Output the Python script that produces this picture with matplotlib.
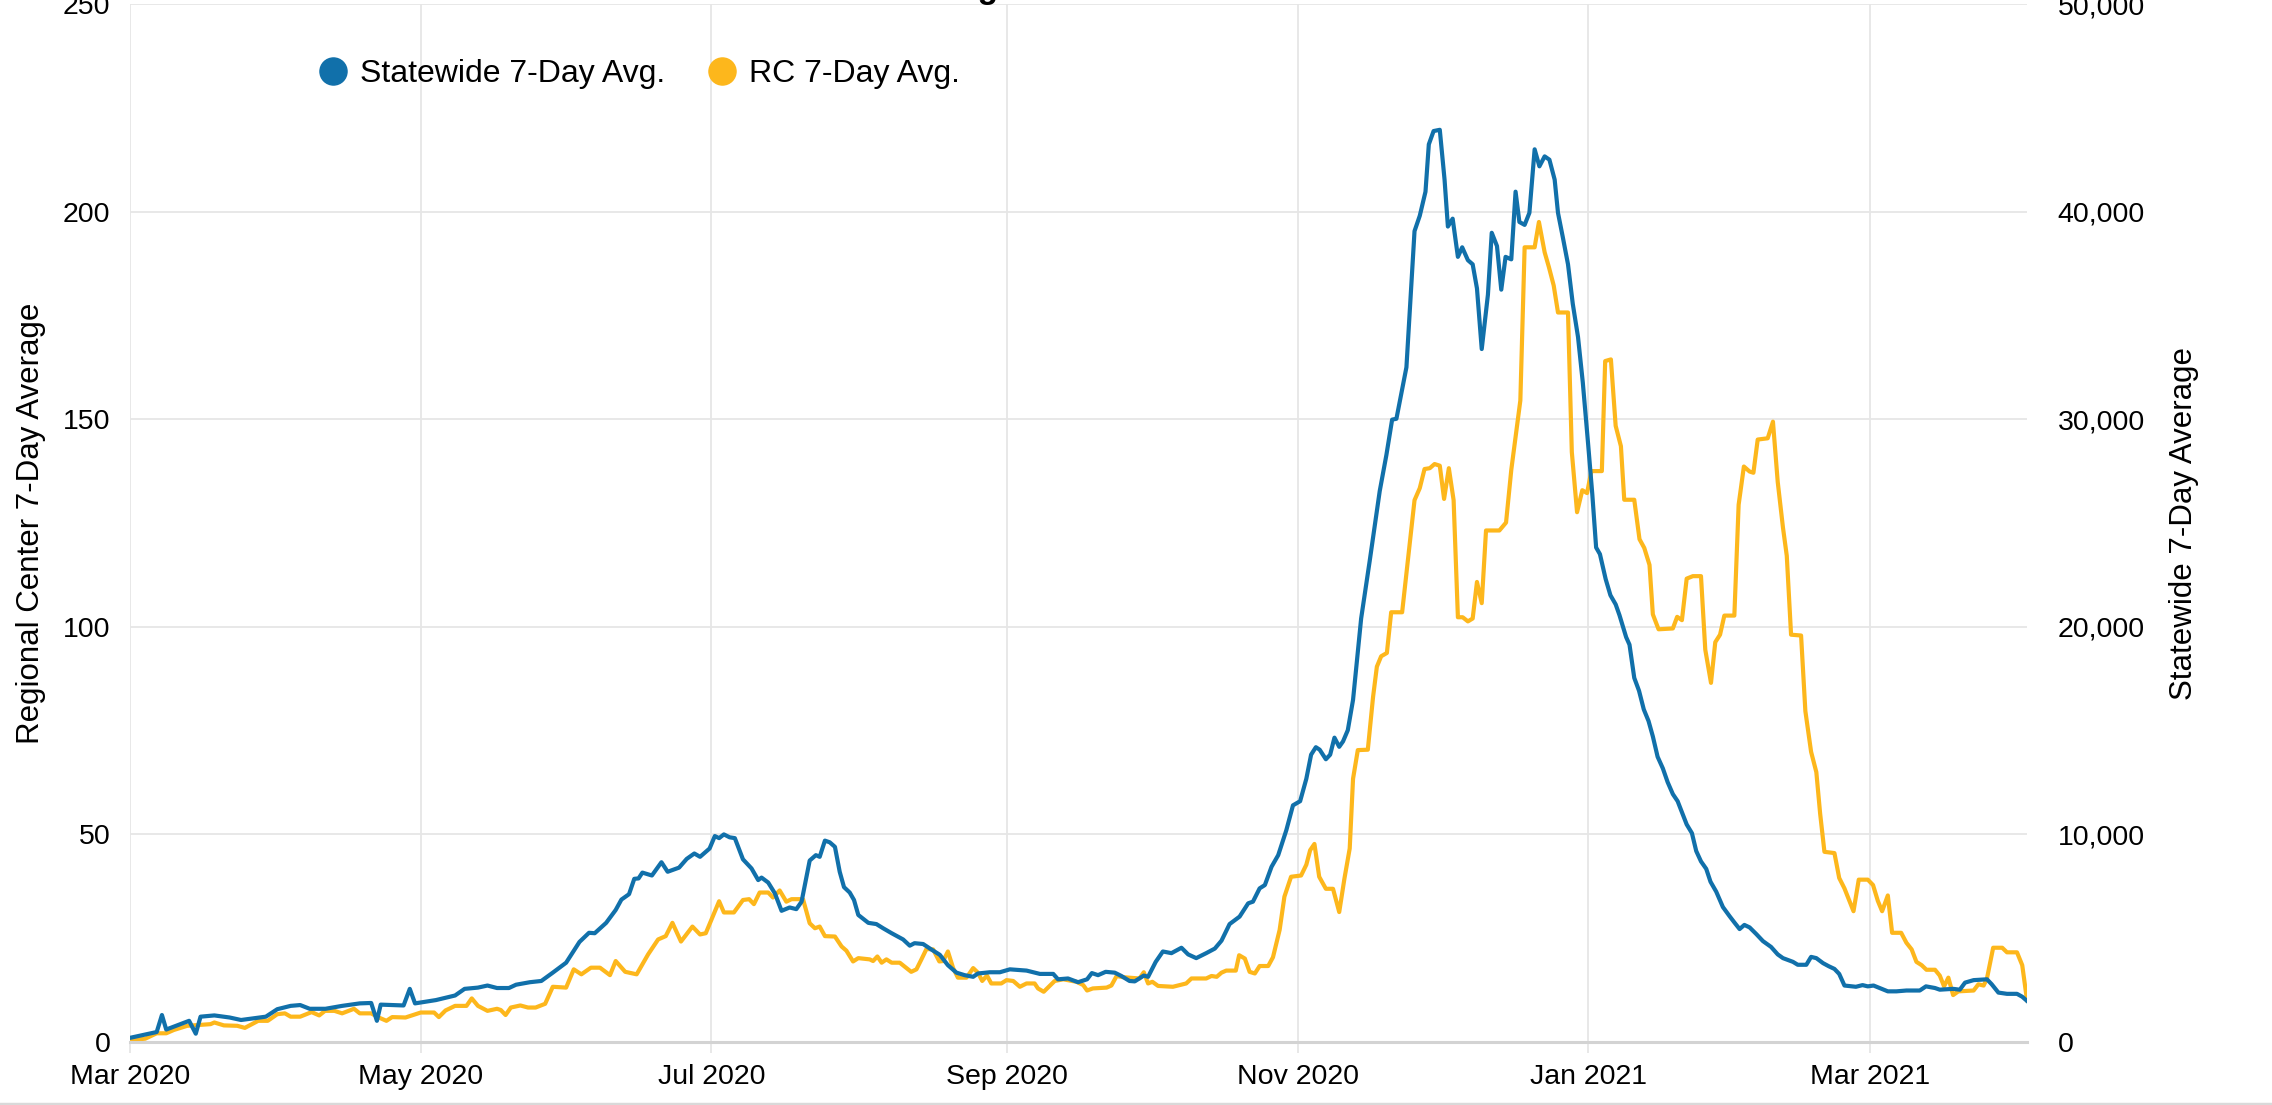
import numpy as np
import pandas as pd
import matplotlib
matplotlib.use("Agg")
import matplotlib.pyplot as plt
import matplotlib.dates as mdates
from matplotlib.lines import Line2D
from matplotlib.ticker import FuncFormatter

plt.rcParams['font.family'] = ['Liberation Sans', 'DejaVu Sans']

# Days since 2020-03-01
start = pd.Timestamp('2020-03-01')

# Statewide 7-day average (cases)
sw_day = [0, 5.6, 6.7, 7.6, 12.4, 13.8, 14.8, 17.7, 20.9, 23.3, 28.5, 30.9, 33.7, 35.7, 37.7, 41, 44.5,
          48.2, 50.6, 51.8, 52.6, 57.4, 58.7, 59.8, 64.2, 68.2, 70.2, 73, 75, 77, 79.5, 81, 83.9, 86.3,
          88.7, 91.5, 94.3, 96.3, 97.5, 99.9, 101.9, 103.1, 104.7, 105.8, 106.7, 107.5, 109.5, 111.5,
          112.8, 115.2, 116.8, 118.4, 119.6, 121.6, 122.7, 123.6, 124.6, 125.8, 126.9, 128.6, 130.4,
          131.8, 132.5, 133.9, 135.3, 136.7, 138.4, 139.8, 140.9, 142.6, 143.9, 144.7, 145.8, 146.8,
          147.9, 148.9, 149.8, 151, 151.9, 152.8, 154.9, 156.6, 158, 159.8, 162.2, 163.6, 164.6, 166.4,
          168.1, 169.9, 171.6, 173.4, 175.1, 176.9, 177.9, 180.4, 182.5, 184.6, 188.1, 190.9, 193.7,
          194.7, 196.8, 198.9, 200.8, 201.8, 203.1, 204.7, 206.6, 208, 209.7, 210.8, 212.7, 213.6,
          215.2, 216.7, 218.5, 220.6, 222, 223.7, 225.8, 227.6, 229, 230.7, 232.8, 234.6, 235.6, 237,
          238.1, 239.5, 240.9, 242.6, 244, 245.5, 246.8, 247.8, 248.8, 249.6, 250.9, 251.8, 252.7,
          253.7, 254.5, 255.5, 256.6, 258.3, 260.1, 262.2, 263.6, 264.8, 265.7, 267.8, 269.5, 270.6,
          271.8, 272.5, 273.5, 274.8, 275.8, 276.5, 277.5, 278.6, 279.5, 280.7, 281.7, 282.6, 283.6,
          284.9, 285.7, 286.8, 287.7, 288.6, 289.8, 290.7, 291.5, 292.6, 293.6, 294.7, 295.7, 296.8,
          297.8, 298.9, 299.6, 300.6, 301.7, 302.7, 303.8, 304.8, 305.9, 306.8, 307.6, 308.4, 309.6,
          310.6, 311.7, 312.5, 313.9, 314.6, 315.6, 316.6, 317.6, 318.6, 319.5, 320.5, 321.6, 322.6,
          323.7, 324.7, 325.8, 326.6, 327.7, 328.6, 329.6, 330.7, 331.6, 332.8, 334.2, 335.6, 336.6,
          337.7, 338.7, 339.8, 341.2, 342.6, 344.3, 345.7, 346.8, 348.9, 349.9, 351.7, 352.7, 353.8,
          355.2, 356.4, 357.6, 358.6, 359.7, 362.1, 363.5, 364.6, 365.8, 367.1, 368.8, 370.6, 372.7,
          375.5, 376.8, 378.7, 379.7, 382.5, 383.9, 385, 386.8, 389.6, 390.6, 392, 393.8, 395.9, 397, 398]
sw_cases = [200, 480, 1300, 600, 1020, 400, 1220, 1280, 1180, 1060, 1220, 1580, 1740, 1780, 1600, 1600,
            1740, 1860, 1880, 1020, 1800, 1760, 2560, 1860, 2020, 2240, 2560, 2620, 2720, 2600, 2600,
            2760, 2880, 2940, 3340, 3820, 4820, 5260, 5240, 5740, 6360, 6860, 7120, 7860, 7880, 8160,
            8020, 8660, 8200, 8400, 8820, 9080, 8920, 9320, 9920, 9820, 10000, 9860, 9820, 8800, 8360,
            7800, 7920, 7680, 7160, 6320, 6480, 6400, 6760, 8740, 9000, 8920, 9700, 9620, 9400, 8200,
            7460, 7200, 6840, 6120, 5740, 5680, 5480, 5240, 4940, 4640, 4760, 4720, 4460, 4200, 3700,
            3340, 3220, 3140, 3300, 3360, 3360, 3500, 3440, 3280, 3280, 3020, 3060, 2880, 3020, 3320,
            3220, 3380, 3340, 3180, 2940, 2920, 3200, 3140, 3860, 4360, 4280, 4540, 4220, 4040, 4280,
            4500, 4880, 5680, 6040, 6680, 6760, 7400, 7560, 8440, 9000, 10200, 11400, 11600, 12680,
            13840, 14200, 14080, 13620, 13840, 14660, 14220, 14480, 15020, 16480, 20400, 23180, 26540,
            28280, 29980, 30020, 32500, 39060, 39800, 40960, 43240, 43880, 43940, 41540, 39280, 39660,
            37820, 38280, 37660, 37460, 36300, 33380, 36000, 38980, 38340, 36240, 37820, 37700, 40960,
            39500, 39360, 39940, 43000, 42180, 42660, 42500, 41540, 39940, 38780, 37460, 35560, 33960,
            31780, 28860, 26380, 23820, 23500, 22300, 21520, 21080, 20560, 19500, 19140, 17540, 16920,
            16020, 15460, 14720, 13740, 13180, 12520, 11940, 11600, 10960, 10480, 10060, 9200, 8700,
            8340, 7720, 7240, 6500, 6060, 5760, 5440, 5640, 5520, 5200, 4860, 4580, 4220, 4040, 3860,
            3720, 3720, 4100, 4040, 3800, 3650, 3520, 3280, 2720, 2660, 2740, 2680, 2720, 2600, 2440,
            2440, 2480, 2480, 2680, 2600, 2520, 2560, 2520, 2860, 2980, 3020, 2780, 2380, 2320, 2320,
            2180, 1980]

# Regional Center 7-day average
rc_day = [0.4, 3.2, 5.6, 7.6, 9.2, 12, 14.4, 16.9, 17.7, 19.7, 22.5, 24.1, 26.9, 28.9, 30.9, 32.5, 33.7,
          35.7, 38.1, 39.7, 40.9, 42.9, 44.5, 47, 48.2, 50.6, 52.2, 53.8, 55, 57.8, 61, 63.8, 64.8, 66.2,
          68.2, 70.6, 71.7, 73, 75, 77, 77.8, 78.8, 79.9, 81.9, 83.5, 85.1, 87.1, 88.7, 91.5, 93.1, 94.7,
          96.7, 98.6, 100.7, 101.9, 103.9, 106.3, 108.7, 110.8, 112.4, 113.8, 115.6, 118, 119.6, 120.8,
          122, 123.6, 124.6, 126.7, 128.6, 129.9, 130.9, 132.1, 133.9, 134.9, 136.3, 137.7, 138.8, 141.2,
          142.6, 143.7, 144.7, 145.8, 147.9, 149.3, 150.3, 151.7, 152.8, 155.2, 155.9, 156.8, 157.7,
          158.7, 159.8, 161.5, 163.9, 165, 166, 167.1, 168.5, 169.8, 170.6, 171.6, 172.7, 173.7, 175.5,
          176.9, 177.9, 178.8, 179.8, 180.7, 182.8, 183.9, 185.3, 186.7, 188.1, 189.8, 190.5, 191.7,
          194, 195.8, 198.6, 200, 200.8, 202, 204.9, 205.9, 207, 208.4, 211.8, 212.7, 213.6, 214.5,
          215.7, 218.8, 221.6, 222.7, 225.8, 226.9, 228, 229, 230, 232, 232.7, 233.9, 234.9, 236, 237,
          238.8, 239.8, 241.2, 242.2, 243.6, 245.7, 246.8, 247.6, 248.5, 249.5, 250.9, 252.4, 253.7,
          254.8, 255.9, 256.6, 257.6, 259.7, 260.8, 261.6, 262.5, 263.7, 264.6, 266.9, 268.1, 269.5,
          270.6, 271.6, 272.7, 273.7, 274.8, 275.7, 276.7, 277.7, 278.6, 279.6, 280.7, 281.7, 282.6,
          283.6, 284.5, 287.3, 288.7, 289.8, 291.7, 292.6, 294.7, 295.6, 296.8, 297.7, 298.7, 299.6,
          301.7, 302.5, 303.6, 304.7, 305.7, 306.6, 308.8, 309.5, 310.7, 311.7, 312.8, 313.5, 315.6,
          316.7, 317.7, 318.8, 319.5, 320.7, 323.7, 324.6, 325.6, 326.6, 327.9, 329.6, 330.5, 331.7,
          332.6, 333.6, 334.5, 336.6, 337.5, 338.6, 339.8, 340.6, 341.5, 343.6, 344.7, 345.7, 346.8,
          347.6, 348.5, 350.6, 351.5, 352.7, 353.8, 354.6, 355.5, 357.6, 358.6, 359.7, 361.6, 362.7,
          364.6, 365.7, 366.7, 367.6, 368.8, 369.7, 371.6, 372.7, 373.8, 374.8, 375.9, 376.9, 378.7,
          379.7, 380.6, 381.5, 382.5, 383.6, 386.8, 387.8, 388.9, 389.6, 390.9, 392.8, 393.8, 395.9,
          397, 398]
rc_avg = [0.5, 0.8, 2.1, 2.1, 2.9, 3.9, 4.1, 4.3, 4.7, 4.0, 3.9, 3.4, 5.1, 5.1, 6.7, 6.9, 6.1, 6.1, 7.2,
          6.4, 7.5, 7.5, 6.9, 8.0, 6.9, 6.9, 5.9, 5.1, 6.0, 5.9, 7.1, 7.1, 6.0, 7.6, 8.7, 8.7, 10.5, 8.7,
          7.5, 8.0, 7.7, 6.5, 8.3, 8.8, 8.3, 8.3, 9.2, 13.3, 13.1, 17.5, 16.3, 17.9, 17.9, 16.1, 19.5,
          16.9, 16.3, 21.1, 24.7, 25.5, 28.7, 24.2, 27.8, 25.9, 26.2, 29.5, 33.9, 31.2, 31.2, 34.2, 34.4,
          33.2, 36.0, 36.0, 34.8, 36.5, 33.8, 34.4, 34.4, 28.6, 27.4, 27.8, 25.5, 25.4, 23.0, 22.0, 19.4,
          20.2, 19.9, 19.5, 20.6, 19.1, 19.9, 19.1, 19.1, 16.9, 17.5, 19.8, 22.4, 22.3, 19.4, 19.5, 21.8,
          17.8, 15.5, 15.5, 17.8, 16.7, 14.7, 16.0, 14.1, 14.1, 14.9, 14.7, 13.3, 14.1, 14.1, 12.9, 12.1,
          14.7, 15.1, 14.5, 13.7, 12.4, 12.9, 13.1, 13.6, 15.9, 15.6, 15.3, 16.8, 14.1, 14.5, 13.5, 13.3,
          14.1, 15.3, 15.3, 15.9, 15.7, 16.7, 17.2, 17.2, 20.9, 20.1, 16.9, 16.5, 18.3, 18.3, 20.4, 27.0,
          35.0, 39.8, 40.1, 42.7, 46.2, 47.7, 39.8, 36.9, 36.9, 31.3, 39.4, 46.6, 63.4, 70.3, 70.4, 83.1,
          90.4, 92.9, 93.7, 103.5, 103.5, 115.9, 130.5, 133.4, 138.0, 138.2, 139.2, 138.8, 130.8, 138.2,
          130.5, 102.3, 102.3, 101.3, 102.0, 110.8, 105.7, 123.2, 123.2, 125.1, 137.8, 154.5, 191.4,
          191.4, 197.5, 190.2, 186.6, 182.2, 175.7, 175.7, 142.1, 127.6, 132.9, 132.2, 137.5, 137.5,
          164.0, 164.4, 148.4, 143.5, 130.6, 130.6, 121.1, 119.0, 114.9, 103.0, 99.4, 99.6, 102.4, 101.6,
          111.6, 112.2, 112.2, 94.5, 86.5, 96.3, 98.1, 102.7, 102.7, 129.4, 138.6, 137.4, 137.1, 145.1,
          145.4, 149.4, 134.9, 123.9, 117.1, 98.1, 97.9, 79.7, 69.9, 65.0, 55.0, 45.8, 45.5, 39.5, 37.0,
          31.5, 39.1, 39.1, 37.8, 34.0, 31.5, 35.3, 26.3, 26.3, 23.9, 22.3, 19.3, 18.5, 17.4, 17.4, 16.0,
          13.4, 15.5, 11.3, 12.2, 12.4, 13.9, 13.6, 15.3, 22.7, 22.7, 21.6, 21.6, 18.5, 10.1]

sw_dates = start + pd.to_timedelta(sw_day, unit='D')
rc_dates = start + pd.to_timedelta(rc_day, unit='D')

blue = '#1170aa'
gold = '#fdb71c'
grid_c = '#e6e6e6'

fig = plt.figure(figsize=(22.72, 11.05), dpi=100)
ax = fig.add_axes([130 / 2272, 63 / 1105, 1897 / 2272, 1038 / 1105])
ax2 = ax.twinx()

ax.plot(rc_dates, rc_avg, color=gold, lw=3.0, solid_joinstyle='round')
ax2.plot(sw_dates, sw_cases, color=blue, lw=3.0, solid_joinstyle='round')

ax.set_ylim(0, 250)
ax2.set_ylim(0, 50000)
ax.set_yticks([0, 50, 100, 150, 200, 250])
ax2.set_yticks([0, 10000, 20000, 30000, 40000, 50000])
ax2.yaxis.set_major_formatter(FuncFormatter(lambda v, p: f'{int(v):,}'))

ax.set_xlim(start, start + pd.Timedelta(days=398))
ax.xaxis.set_major_locator(mdates.MonthLocator(bymonth=[1, 3, 5, 7, 9, 11]))
ax.xaxis.set_major_formatter(mdates.DateFormatter('%b %Y'))

ax.grid(True, color=grid_c, lw=1.3)
ax.set_axisbelow(True)
for a in (ax, ax2):
    for s in ('left', 'right', 'top', 'bottom'):
        a.spines[s].set_visible(False)
ax.spines['bottom'].set_visible(True)
ax.spines['bottom'].set_color('#d3d3d3')
ax.spines['bottom'].set_linewidth(2.2)

ax.tick_params(axis='x', length=8, width=1.3, color=grid_c, labelsize=20.5, pad=8)
ax.tick_params(axis='y', length=0, labelsize=20.5, pad=14)
ax2.tick_params(axis='y', length=0, labelsize=20.5, pad=22)

ax.set_ylabel('Regional Center 7-Day Average', fontsize=22.5)
ax.yaxis.set_label_coords(-0.0443, 0.5)
ax2.set_ylabel('Statewide 7-Day Average', fontsize=22.5)
ax2.yaxis.set_label_coords(1.075, 0.5)

handles = [Line2D([], [], marker='o', ls='', markersize=19.5, color=blue),
           Line2D([], [], marker='o', ls='', markersize=19.5, color=gold)]
fig.legend(handles, ['Statewide 7-Day Avg.', 'RC 7-Day Avg.'], loc='center',
           bbox_to_anchor=(0.281, 0.933), ncol=2, frameon=False, fontsize=23,
           handlelength=1.0, handletextpad=0.34, columnspacing=1.3)

# title sits mostly above the visible area
fig.text(935 / 2272, 1 + 2 / 1105, 'Regional Center vs. Statewide', fontsize=24,
         fontweight='bold', ha='left', va='baseline')

fig.add_artist(Line2D([0, 1], [1.5 / 1105, 1.5 / 1105], color='#d9d9d9', lw=2.5,
                      transform=fig.transFigure))

fig.savefig('out.png', dpi=100)
